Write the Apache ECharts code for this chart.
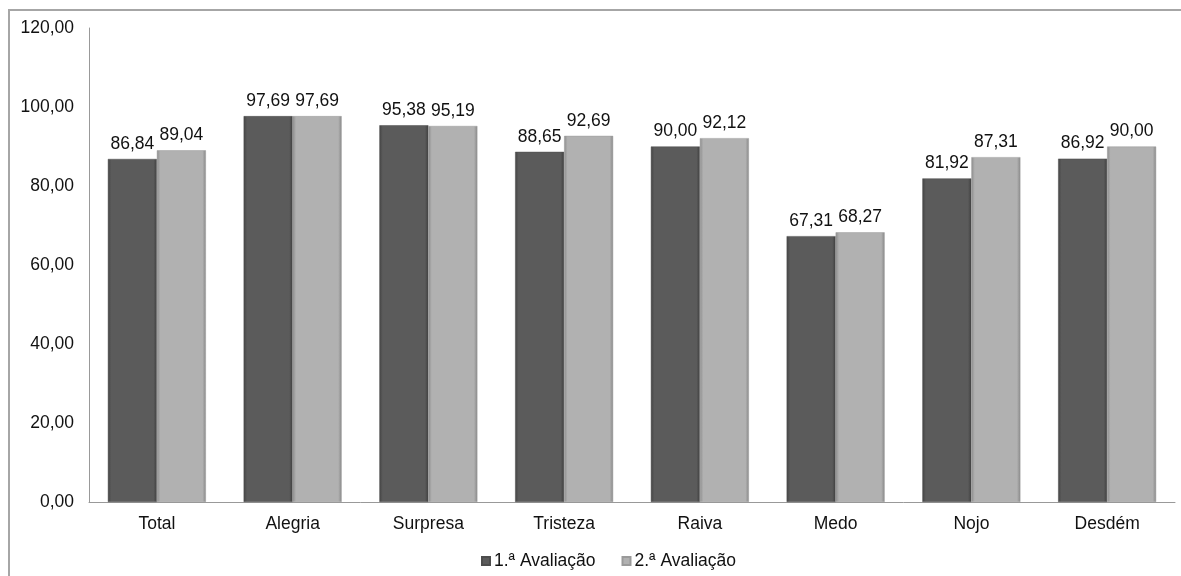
<!DOCTYPE html>
<html>
<head>
<meta charset="utf-8">
<style>
html,body{margin:0;padding:0;background:#fff;}
#chart{width:1181px;height:576px;}
</style>
<script src="https://cdn.jsdelivr.net/npm/echarts@6/dist/echarts.min.js"></script>
</head>
<body>
<div id="chart"></div>
<script>
var categories = ['Total','Alegria','Surpresa','Tristeza','Raiva','Medo','Nojo','Desdém'];
var aval1 = [86.84, 97.69, 95.38, 88.65, 90.00, 67.31, 81.92, 86.92];
var aval2 = [89.04, 97.69, 95.19, 92.69, 92.12, 68.27, 87.31, 90.00];
var seriesNames = ['1.ª Avaliação', '2.ª Avaliação'];

function fmt(v){ return Number(v).toFixed(2).replace('.', ','); }
var FONT = 'Liberation Sans, Arial, sans-serif';
var FS = 17.5;

function grad(edge, mid, edge2){
  return new echarts.graphic.LinearGradient(0,0,1,0,[
    {offset:0, color:edge},
    {offset:0.07, color:mid},
    {offset:0.93, color:mid},
    {offset:1, color:edge2}
  ]);
}

var chart = echarts.init(document.getElementById('chart'));
chart.setOption({
  backgroundColor:'#fff',
  animation:false,
  textStyle:{fontFamily:FONT},
  graphic:[{
    type:'rect', silent:true, z:-1,
    shape:{x:9, y:10, width:1300, height:700},
    style:{fill:'none', stroke:'#a6a6a6', lineWidth:2}
  }],
  grid:{left:89, right:6, top:28, bottom:74, containLabel:false},
  legend:{
    data:seriesNames,
    bottom:1,
    left:476,
    itemWidth:8, itemHeight:8, itemGap:26,
    icon:'rect',
    textStyle:{fontSize:FS, color:'#111', fontFamily:FONT, padding:[0,0,0,-1]}
  },
  xAxis:{
    type:'category',
    data:categories,
    axisLine:{lineStyle:{color:'#999', width:1}},
    axisTick:{show:false},
    axisLabel:{fontSize:FS, color:'#111', margin:13, fontFamily:FONT}
  },
  yAxis:{
    type:'value', min:0, max:120, interval:20,
    axisLine:{show:true, lineStyle:{color:'#999', width:1}},
    axisTick:{show:false},
    splitLine:{show:false},
    axisLabel:{fontSize:FS, color:'#111', margin:15, formatter:fmt, fontFamily:FONT}
  },
  series:[{
    name:seriesNames[0], type:'bar', data:aval1,
    barWidth:49, barGap:'0%',
    itemStyle:{color:grad('#444444','#5b5b5b','#3f3f3f'), borderColor:'#4d4d4d', borderWidth:0.5},
    label:{show:true, position:'top', distance:6, formatter:function(p){return fmt(p.value);}, fontSize:FS, color:'#111', fontFamily:FONT}
  },{
    name:seriesNames[1], type:'bar', data:aval2,
    barWidth:49, barGap:'0%',
    itemStyle:{color:grad('#8c8c8c','#b1b1b1','#888888'), borderColor:'#9a9a9a', borderWidth:0.5},
    label:{show:true, position:'top', distance:6, formatter:function(p){return fmt(p.value);}, fontSize:FS, color:'#111', fontFamily:FONT}
  }]
});
</script>
</body>
</html>
